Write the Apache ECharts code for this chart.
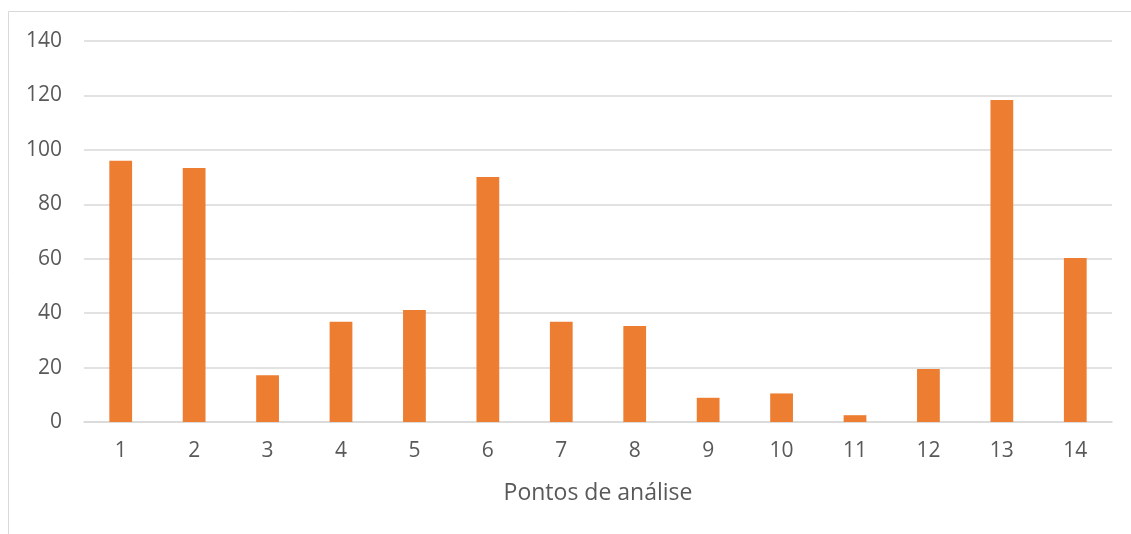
<!DOCTYPE html>
<html><head><meta charset="utf-8">
<script src="https://cdn.jsdelivr.net/npm/echarts@6/dist/echarts.min.js"></script>
<style>html,body{margin:0;padding:0;background:#fff}#c{width:1131px;height:534px}</style>
</head><body><div id="c"></div>
<script>
const categories = ['1','2','3','4','5','6','7','8','9','10','11','12','13','14'];
const values = [96, 93.3, 17.2, 36.8, 41.2, 90, 36.8, 35.3, 8.9, 10.5, 2.5, 19.5, 118.3, 60.3];
const xTitle = 'Pontos de análise';
const font = 'Open Sans';
const chart = echarts.init(document.getElementById('c'));
chart.setOption({
  animation: false,
  graphic: [{type:'rect', shape:{x:8.5,y:11.5,width:1140,height:600}, style:{fill:'none', stroke:'#d9d9d9', lineWidth:1}}],
  grid: {left:84, right:19, top:41, bottom:112},
  xAxis: {
    type:'category', data:categories,
    name:xTitle, nameLocation:'middle', nameGap:60,
    nameTextStyle:{fontFamily:font, fontSize:23, color:'#595959'},
    axisLine:{lineStyle:{color:'#d9d9d9', width:1.5}},
    axisTick:{show:false},
    axisLabel:{fontFamily:font, fontSize:21, color:'#595959', margin:19}
  },
  yAxis: {
    type:'value', min:0, max:140, interval:20,
    axisLine:{show:false}, axisTick:{show:false},
    axisLabel:{fontFamily:font, fontSize:21, color:'#595959', margin:22},
    splitLine:{lineStyle:{color:'#d9d9d9', width:1.5}}
  },
  series: [{type:'bar', data:values, barWidth:'31%', itemStyle:{color:'#ED7D31'}}]
});
</script></body></html>
